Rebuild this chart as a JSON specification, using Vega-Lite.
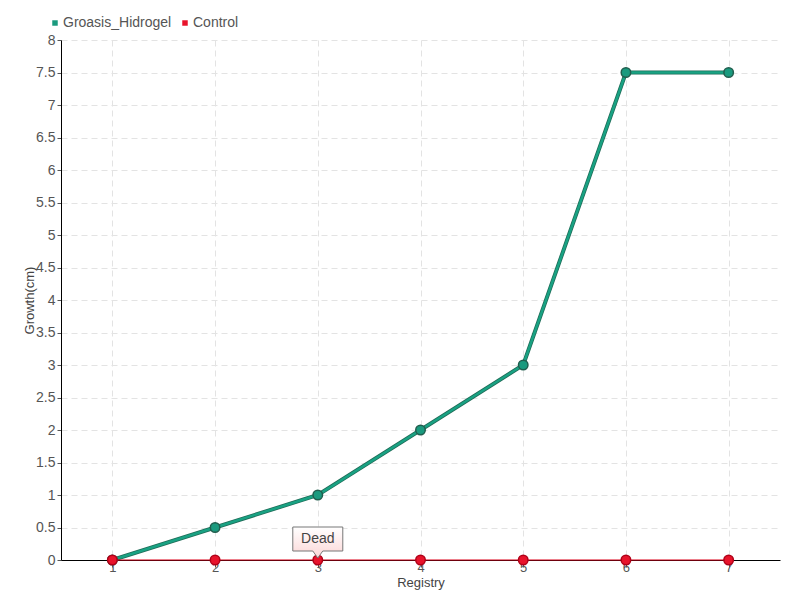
{
  "$schema": "https://vega.github.io/schema/vega-lite/v6.json",
  "width": 719,
  "height": 520,
  "autosize": "none",
  "padding": {"left": 61, "top": 40, "right": 20, "bottom": 40},
  "background": "white",
  "config": {
    "font": "Liberation Sans",
    "view": {"stroke": null}
  },
  "data": {
    "values": [
      {"registry": 1, "growth": 0, "series": "Groasis_Hidrogel"},
      {"registry": 2, "growth": 0.5, "series": "Groasis_Hidrogel"},
      {"registry": 3, "growth": 1, "series": "Groasis_Hidrogel"},
      {"registry": 4, "growth": 2, "series": "Groasis_Hidrogel"},
      {"registry": 5, "growth": 3, "series": "Groasis_Hidrogel"},
      {"registry": 6, "growth": 7.5, "series": "Groasis_Hidrogel"},
      {"registry": 7, "growth": 7.5, "series": "Groasis_Hidrogel"},
      {"registry": 1, "growth": 0, "series": "Control"},
      {"registry": 2, "growth": 0, "series": "Control"},
      {"registry": 3, "growth": 0, "series": "Control"},
      {"registry": 4, "growth": 0, "series": "Control"},
      {"registry": 5, "growth": 0, "series": "Control"},
      {"registry": 6, "growth": 0, "series": "Control"},
      {"registry": 7, "growth": 0, "series": "Control"}
    ]
  },
  "encoding": {
    "x": {
      "field": "registry",
      "type": "ordinal",
      "scale": {"type": "point", "padding": 0.5},
      "axis": {
        "title": "Registry",
        "labelAngle": 0,
        "labelFontSize": 13,
        "labelColor": "#555555",
        "titleFontSize": 13,
        "titleFontWeight": "normal",
        "titleColor": "#444444",
        "titlePadding": 2,
        "domainColor": "#000000",
        "tickColor": "#555555",
        "tickSize": 7,
        "labelPadding": -6,
        "grid": true,
        "gridDash": [6, 4],
        "gridColor": "#e3e3e3"
      }
    },
    "y": {
      "field": "growth",
      "type": "quantitative",
      "scale": {"domain": [0, 8], "nice": false},
      "axis": {
        "title": "Growth(cm)",
        "values": [0, 0.5, 1, 1.5, 2, 2.5, 3, 3.5, 4, 4.5, 5, 5.5, 6, 6.5, 7, 7.5, 8],
        "format": "~g",
        "labelFontSize": 14,
        "labelColor": "#555555",
        "labelPadding": 2,
        "titleFontSize": 13,
        "titleFontWeight": "normal",
        "titleColor": "#444444",
        "titlePadding": -1,
        "domainColor": "#000000",
        "tickColor": "#555555",
        "tickSize": 4,
        "grid": true,
        "gridDash": [6, 4],
        "gridColor": "#e3e3e3"
      }
    }
  },
  "layer": [
    {
      "transform": [{"filter": "datum.series === 'Groasis_Hidrogel'"}],
      "mark": {"type": "line", "color": "#1f6b57", "strokeWidth": 4}
    },
    {
      "transform": [{"filter": "datum.series === 'Groasis_Hidrogel'"}],
      "mark": {"type": "line", "color": "#19a283", "strokeWidth": 2.5}
    },
    {
      "transform": [{"filter": "datum.series === 'Control'"}],
      "mark": {"type": "line", "color": "#dc0018", "strokeWidth": 1.2}
    },
    {
      "mark": {"type": "point", "filled": true, "size": 90, "strokeWidth": 1.5, "opacity": 1},
      "encoding": {
        "color": {
          "field": "series",
          "type": "nominal",
          "scale": {"domain": ["Groasis_Hidrogel", "Control"], "range": ["#1a9a7e", "#e8132b"]},
          "legend": {
            "title": null,
            "orient": "none",
            "legendX": -13,
            "legendY": -24,
            "direction": "horizontal",
            "symbolType": "square",
            "symbolSize": 30,
            "symbolStrokeWidth": 0,
            "labelFontSize": 14,
            "labelColor": "#555555",
            "labelOffset": 1,
            "columnPadding": 6,
            "symbolOpacity": 1
          }
        },
        "stroke": {
          "field": "series",
          "type": "nominal",
          "scale": {"domain": ["Groasis_Hidrogel", "Control"], "range": ["#215e4e", "#b00018"]},
          "legend": null
        }
      }
    },
    {
      "data": {"values": [{"registry": 3, "growth": 0, "note": "Dead"}]},
      "mark": {
        "type": "point",
        "shape": "M-1,-1.32L1,-1.32L1,-0.36L0.2,-0.36L0,-0.08L-0.2,-0.36L-1,-0.36Z",
        "size": 2500,
        "filled": true,
        "opacity": 1,
        "stroke": "#777777",
        "strokeWidth": 1,
        "fill": {
          "gradient": "linear",
          "x1": 0, "y1": 0, "x2": 0, "y2": 1,
          "stops": [{"offset": 0, "color": "#ffffff"}, {"offset": 1, "color": "#fcd6d6"}]
        }
      },
      "encoding": {"x": {"field": "registry", "type": "ordinal"}, "y": {"field": "growth", "type": "quantitative"}}
    },
    {
      "data": {"values": [{"registry": 3, "growth": 0, "note": "Dead"}]},
      "mark": {"type": "text", "fontSize": 14, "color": "#444444", "yOffset": -21},
      "encoding": {
        "x": {"field": "registry", "type": "ordinal"},
        "y": {"field": "growth", "type": "quantitative"},
        "text": {"field": "note"}
      }
    }
  ]
}
